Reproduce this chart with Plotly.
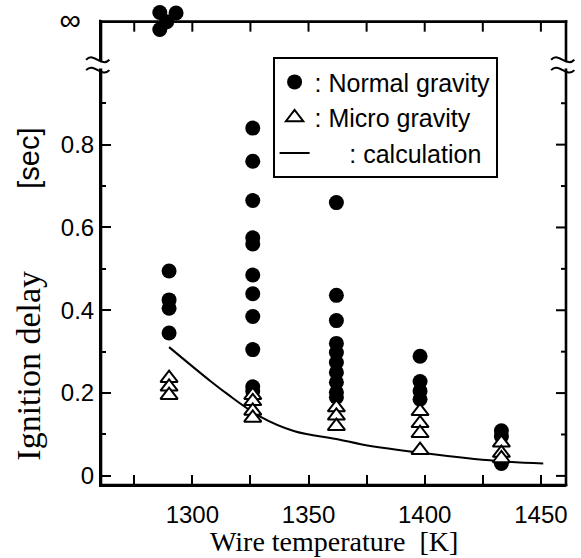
import plotly.graph_objects as go

# ---------------- data ----------------
temps = [1290, 1326, 1362, 1398, 1433]  # wire temperature [K]

normal_delay = [
    [0.495, 0.425, 0.405, 0.345],
    [0.84, 0.76, 0.665, 0.575, 0.56, 0.485, 0.44, 0.385, 0.305, 0.215, 0.205],
    [0.66, 0.436, 0.375, 0.32, 0.298, 0.274, 0.25, 0.226, 0.202, 0.19],
    [0.289, 0.228, 0.205, 0.185],
    [0.109, 0.095, 0.03],
]
micro_delay = [
    [0.236, 0.215, 0.195],
    [0.195, 0.18, 0.157, 0.14],
    [0.165, 0.145, 0.12],
    [0.156, 0.127, 0.103, 0.062],
    [0.08, 0.055, 0.042],
]

# normal-gravity runs with no ignition (plotted on the "infinity" line)
noign_temp = [1286, 1293, 1286, 1289]
noign_pos = [1.119, 1.118, 1.078, 1.097]

calc_temp = [1290, 1308, 1315, 1329, 1344, 1363, 1373, 1401, 1431, 1451]
calc_delay = [0.311, 0.228, 0.198, 0.144, 0.108, 0.088, 0.076, 0.054, 0.036, 0.030]

INF = 1.097          # axis position used for "infinity"
Y_LO, Y_HI = -0.022, 1.13
X_LO, X_HI = 1260.7, 1460.8
y_tickvals = [0, 0.2, 0.4, 0.6, 0.8, INF]
y_ticktext = ["0", "0.2", "0.4", "0.6", "0.8",
              "<span style='font-size:30px'>∞</span>&nbsp;&nbsp;"]
y_minor = [0.1, 0.3, 0.5, 0.7, 0.9]
x_tickvals = [1300, 1350, 1400, 1450]
x_minor = [1275, 1325, 1375, 1425]

# ---------------- build ----------------
nx, ny = [], []
for t, vals in zip(temps, normal_delay):
    nx += [t] * len(vals)
    ny += vals
nx += noign_temp
ny += noign_pos

mx, my = [], []
for t, vals in zip(temps, micro_delay):
    mx += [t] * len(vals)
    my += vals

SANS = "Liberation Sans, Arial, sans-serif"
SERIF = "Liberation Serif, Times New Roman, serif"

W, H = 581, 558
ML, MR, MT, MB = 101, 15, 8, 73
PW, PH = W - ML - MR, H - MT - MB
Y_PER_PX = (Y_HI - Y_LO) / PH

fig = go.Figure()
fig.add_trace(go.Scatter(
    x=calc_temp, y=calc_delay, mode="lines",
    name="&nbsp;&nbsp;&nbsp;&nbsp;&nbsp;:&nbsp;calculation",
    line=dict(color="black", width=2, shape="spline", smoothing=1.0),
    legendrank=3,
))
fig.add_trace(go.Scatter(
    x=nx, y=ny, mode="markers", name=":&nbsp;Normal gravity",
    marker=dict(symbol="circle", size=15, color="black"),
    cliponaxis=False, legendrank=1,
))
fig.add_trace(go.Scatter(
    x=mx, y=my, mode="markers", name=":&nbsp;Micro gravity",
    marker=dict(symbol="triangle-up", size=15, color="white",
                line=dict(color="black", width=2)),
    cliponaxis=False, legendrank=2,
))

tick_common = dict(
    showline=True, linecolor="black", linewidth=2,
    ticks="inside", tickcolor="black", tickwidth=2,
    showgrid=False, zeroline=False,
    tickfont=dict(family=SANS, size=24, color="black"),
)

fig.update_layout(
    xaxis=dict(
        range=[X_LO, X_HI], tickvals=x_tickvals, ticklen=10,
        minor=dict(tickvals=x_minor, ticks="inside", ticklen=10, tickwidth=2, tickcolor="black"),
        ticklabelstandoff=7, **tick_common,
    ),
    yaxis=dict(
        range=[Y_LO, Y_HI], tickvals=y_tickvals, ticktext=y_ticktext, ticklen=10,
        minor=dict(tickvals=y_minor, ticks="inside", ticklen=5, tickwidth=2, tickcolor="black"),
        **tick_common,
    ),
)


def ypaper(v):
    return (v - Y_LO) / (Y_HI - Y_LO)


inf_pos = ypaper(INF)
hx, hy = 1.3 / PW, 1.3 / PH       # half frame thickness in paper units
bar = dict(type="rect", xref="paper", yref="paper", layer="above",
           fillcolor="black", line=dict(width=0))
shapes = []
# hide the left axis line above the infinity line
shapes.append(dict(type="rect", xref="paper", yref="paper", x0=-0.012, x1=0.012,
                   y0=inf_pos + 0.004, y1=1.01, fillcolor="white",
                   line=dict(width=0), layer="above"))
# frame drawn as filled bars: left, right, bottom, top (infinity line)
shapes.append(dict(bar, x0=-hx, x1=hx, y0=-hy, y1=inf_pos + hy))
shapes.append(dict(bar, x0=1 - hx, x1=1 + hx, y0=-hy, y1=inf_pos + hy))
shapes.append(dict(bar, x0=-hx, x1=1 + hx, y0=-hy, y1=hy))
shapes.append(dict(bar, x0=-hx, x1=1 + hx, y0=inf_pos - hy, y1=inf_pos + hy))
# mirrored ticks: top (pointing down) and right (pointing left)
tx = 1.0 / PW
for t in x_tickvals + x_minor:
    fx = (t - X_LO) / (X_HI - X_LO)
    shapes.append(dict(bar, x0=fx - tx, x1=fx + tx, y0=inf_pos - 10 / PH, y1=inf_pos))
for v, ln in [(v, 10) for v in y_tickvals[:-1]] + [(v, 5) for v in y_minor]:
    fy = ypaper(v)
    shapes.append(dict(bar, x0=1 - ln / PW, x1=1, y0=fy - 1.0 / PH, y1=fy + 1.0 / PH))
# axis-break marks near 1.0 on both vertical sides
for xc in (0.0, 1.0):
    shapes.append(dict(type="rect", xref="paper", yref="paper",
                       x0=xc - 0.012, x1=xc + 0.012, y0=ypaper(0.984), y1=ypaper(1.002),
                       fillcolor="white", line=dict(width=0), layer="above"))
    x0, w = xc - 0.032, 0.05
    for yb in (0.98, 1.005):
        p0, pu, pd = ypaper(yb), ypaper(yb + 0.02), ypaper(yb - 0.02)
        shapes.append(dict(
            type="path", xref="paper", yref="paper", layer="above",
            path=f"M {x0},{p0} C {x0 + w/3},{pu} {x0 + 2*w/3},{pd} {x0 + w},{p0}",
            line=dict(color="black", width=2),
        ))

annotations = [
    dict(text="Wire temperature&nbsp;&nbsp;[K]", xref="paper", yref="paper",
         x=0.5, y=-0.119, xanchor="center", yanchor="middle", showarrow=False,
         font=dict(family=SERIF, size=28, color="black")),
    dict(text="Ignition delay", xref="paper", yref="paper", textangle=-90,
         x=-0.155, y=0.25, xanchor="center", yanchor="middle", showarrow=False,
         font=dict(family=SERIF, size=34, color="black")),
    dict(text="[sec]", xref="paper", yref="paper", textangle=-90,
         x=-0.155, y=0.686, xanchor="center", yanchor="middle", showarrow=False,
         font=dict(family=SANS, size=29, color="black")),
]

fig.update_layout(
    width=W, height=H,
    margin=dict(l=ML, r=MR, t=MT, b=MB, autoexpand=False),
    plot_bgcolor="rgba(0,0,0,0)", paper_bgcolor="white",
    shapes=shapes, annotations=annotations,
    showlegend=True,
    legend=dict(
        x=0.369, y=0.897, xanchor="left", yanchor="top",
        bgcolor="white", bordercolor="black", borderwidth=2,
        font=dict(family=SANS, size=25, color="black"),
        tracegroupgap=0, itemsizing="trace",
    ),
)

fig.write_html("out.html", config={"displayModeBar": False, "staticPlot": True},
               post_script="document.body.style.margin='0px';")
